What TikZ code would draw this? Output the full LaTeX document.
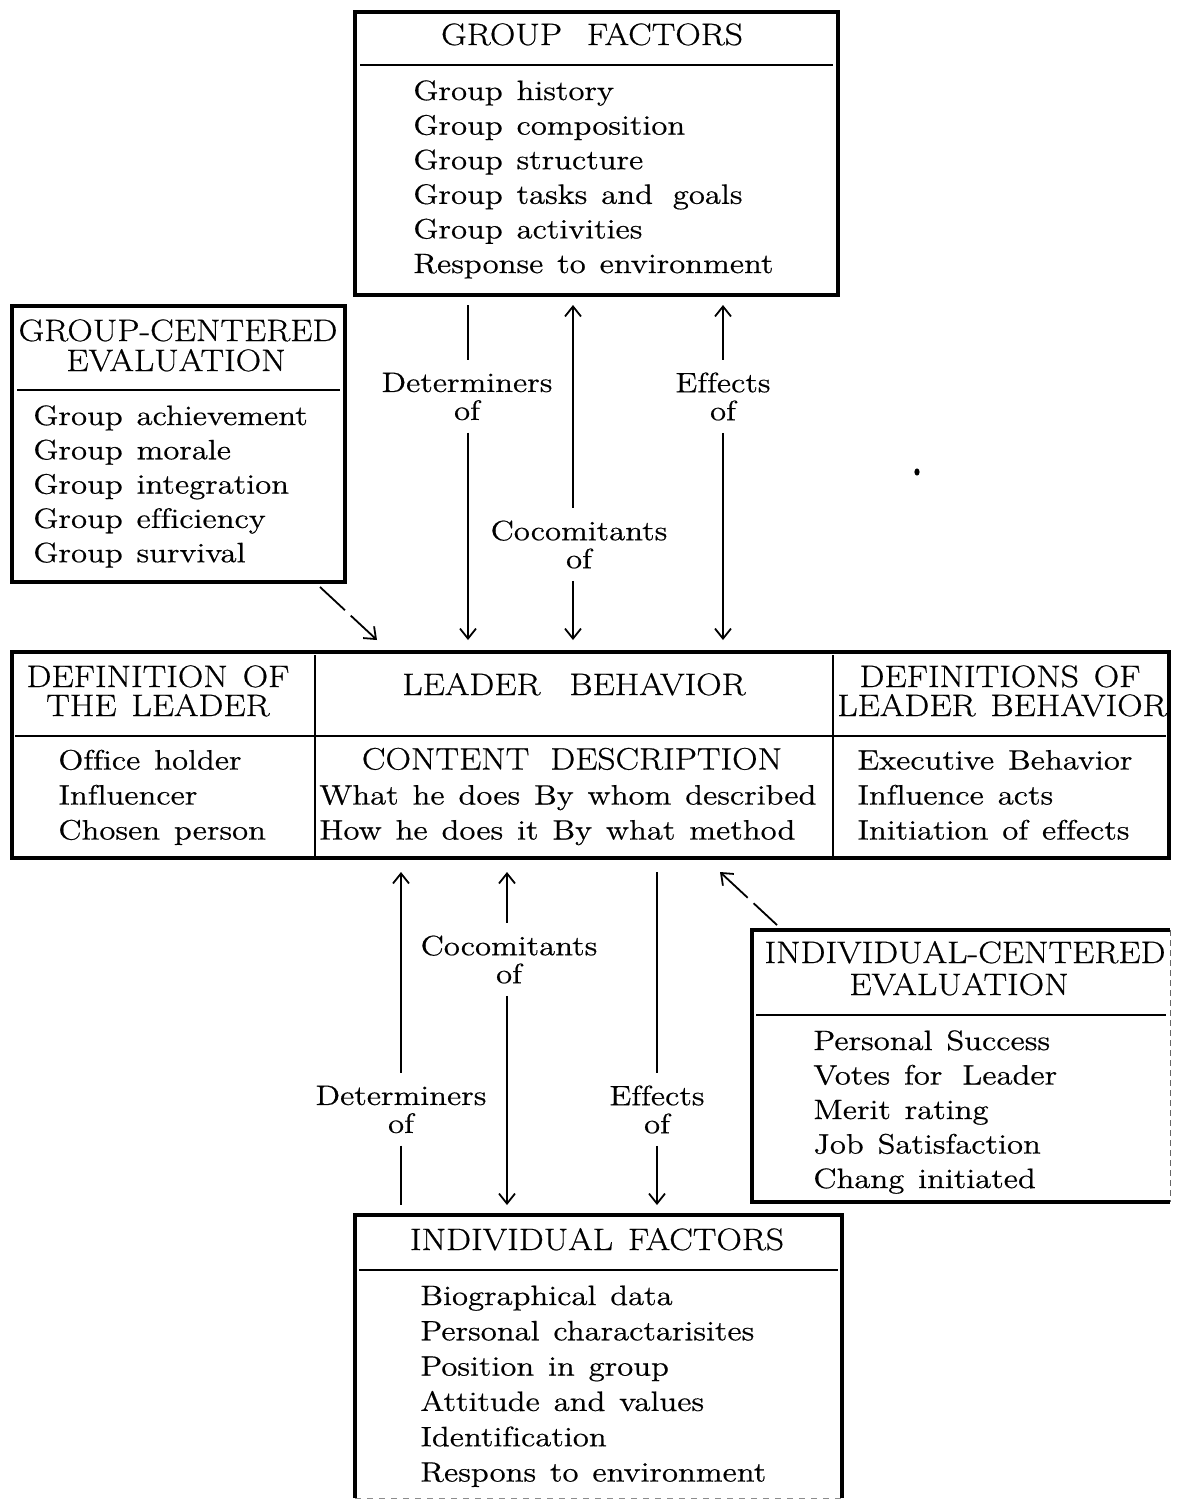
\documentclass[tikz,border=0pt]{standalone}
\usepackage{fontspec}
\newfontfamily\bodyfam{Latin Modern Roman}[FakeStretch=1.17,WordSpace=1.3,FakeBold=0.6,Ligatures=NoCommon]
\newfontfamily\headfam{Latin Modern Roman}[FakeStretch=1.14,WordSpace=1.4,FakeBold=0.6,Ligatures=NoCommon]
\newcommand\bodyfont{\bodyfam\fontsize{14pt}{17pt}\selectfont}
\newcommand\headfont{\headfam\fontsize{15.5pt}{17pt}\selectfont}
\newcommand\lblfont{\bodyfam\fontsize{14pt}{14pt}\selectfont}
\usetikzlibrary{arrows.meta}
\tikzset{
  boxnode/.style={draw, line width=1.7pt, inner sep=0pt, outer sep=0pt, anchor=north west},
  plainbox/.style={inner sep=0pt, outer sep=0pt, anchor=north west},
  boxline/.style={line width=1.7pt},
  divider/.style={line width=0.8pt},
  item/.style={anchor=base west, inner sep=0pt, font=\bodyfont},
  head/.style={anchor=base, inner sep=0pt, font=\headfont},
  lbl/.style={align=center, inner sep=6pt, font=\lblfont},
  conn/.style={line width=0.9pt},
  tip/.style={-{Straight Barb[length=5pt,width=8pt]}},
  tipstart/.style={{Straight Barb[length=5pt,width=8pt]}-}
}
\begin{document}
\begin{tikzpicture}[x=0.5pt,y=-0.5pt]
\useasboundingbox (0,0) rectangle (1177,1501);

% ---------- GROUP FACTORS ----------
\node[boxnode, minimum width=241.5pt, minimum height=141.5pt] (gf) at (355,12) {};
\draw[divider] (360,65) -- (833,65);
\node[head] (gfh) at (592,45) {GROUP\hspace{5pt} FACTORS};
\foreach \t [count=\i from 0] in {Group history, Group composition, Group structure, Group tasks and\hspace{3pt} goals, Group activities, Response to environment}
  \node[item] (gf\i) at (413,{100+34.6*\i}) {\t};

% ---------- GROUP-CENTERED EVALUATION ----------
\node[boxnode, minimum width=166.5pt, minimum height=138pt] (gce) at (12,306) {};
\draw[divider] (17,390) -- (340,390);
\node[head] (gceh1) at (178,341) {GROUP-CENTERED};
\node[head] (gceh2) at (176,371) {EVALUATION};
\foreach \t [count=\i from 0] in {Group achievement, Group morale, Group integration, Group efficiency, Group survival}
  \node[item] (gce\i) at (33,{425+34.3*\i}) {\t};

% ---------- LEADER BEHAVIOR ----------
\node[boxnode, minimum width=578.5pt, minimum height=103pt] (lb) at (12,652) {};
\draw[divider] (15,736) -- (1166,736);
\draw[line width=0.7pt] (315,655) -- (315,856);
\draw[line width=0.7pt] (833,655) -- (833,856);
\node[head] (lbh1) at (158,687) {DEFINITION OF};
\node[head] (lbh2) at (158,716) {THE LEADER};
\node[head] (lbh3) at (574,695) {LEADER\hspace{7pt} BEHAVIOR};
\node[head] (lbh4) at (1000,687) {DEFINITIONS OF};
\node[head] (lbh5) at (1002,716) {LEADER BEHAVIOR};
\foreach \t [count=\i from 0] in {Office holder, Influencer, Chosen person}
  \node[item] (lbl\i) at (58,{769.5+35*\i}) {\t};
\node[head] (lbc) at (572,769.5) {CONTENT\hspace{3pt} DESCRIPTION};
\node[item] (lbm1) at (319,804.5) {What he does By whom described};
\node[item] (lbm2) at (319,839.5) {How he does it By what method};
\foreach \t [count=\i from 0] in {Executive Behavior, Influence acts, Initiation of effects}
  \node[item] (lbr\i) at (857,{769.5+35*\i}) {\t};

% ---------- INDIVIDUAL-CENTERED EVALUATION ----------
\node[plainbox, minimum width=209pt, minimum height=136pt] (ice) at (752,930) {};
\draw[boxline] (ice.north east) -- (ice.north west) -- (ice.south west) -- (ice.south east);
\draw[line width=0.5pt, densely dashed, black!60] (ice.north east) -- (ice.south east);
\draw[divider] (756,1015) -- (1166,1015);
\node[head] (iceh1) at (965,963) {INDIVIDUAL-CENTERED};
\node[head] (iceh2) at (959,995) {EVALUATION};
\foreach \t [count=\i from 0] in {Personal Success, Votes for\hspace{3pt} Leader, Merit rating, Job Satisfaction, Chang initiated}
  \node[item] (ice\i) at (813,{1050+34.5*\i}) {\t};

% ---------- INDIVIDUAL FACTORS ----------
\node[plainbox, minimum width=243.5pt, minimum height=141.5pt] (ifb) at (355,1215) {};
\draw[boxline] (ifb.south west) -- (ifb.north west) -- (ifb.north east) -- (ifb.south east);
\draw[line width=0.5pt, dashed, black!45] (ifb.south west) -- (ifb.south east);
\draw[divider] (359,1270) -- (838,1270);
\node[head] (ifh) at (597,1250) {INDIVIDUAL FACTORS};
\foreach \t [count=\i from 0] in {Biographical data, Personal charactarisites, Position in group, Attitude and values, Identification, Respons to environment}
  \node[item] (if\i) at (420,{1305+35.3*\i}) {\t};

% ---------- connector labels ----------
\node[lbl] (l1) at (467,396.5) {Determiners\\of};
\node[lbl] (l2) at (579,544.5) {Cocomitants\\of};
\node[lbl] (l3) at (723,396.5) {Effects\\of};
\node[lbl] (l4) at (401,1109.5) {Determiners\\of};
\node[lbl] (l5) at (509,959.5) {Cocomitants\\of};
\node[lbl] (l6) at (657,1109.5) {Effects\\of};

\coordinate (v1) at (468,0);
\coordinate (v2) at (573,0);
\coordinate (v3) at (723,0);
\coordinate (v4) at (401,0);
\coordinate (v5) at (507,0);
\coordinate (v6) at (657,0);

% top connectors
\draw[conn, shorten <=5pt] (v1 |- gf.south) -- (v1 |- l1.north);
\draw[conn, tip, shorten >=6pt] (v1 |- l1.south) -- (v1 |- lb.north);
\draw[conn, tipstart, shorten <=5pt] (v2 |- gf.south) -- (v2 |- l2.north);
\draw[conn, tip, shorten >=6pt] (v2 |- l2.south) -- (v2 |- lb.north);
\draw[conn, tipstart, shorten <=5pt] (v3 |- gf.south) -- (v3 |- l3.north);
\draw[conn, tip, shorten >=6pt] (v3 |- l3.south) -- (v3 |- lb.north);

% bottom connectors
\draw[conn, tipstart, shorten <=7pt] (v4 |- lb.south) -- (v4 |- l4.north);
\draw[conn, shorten >=5pt] (v4 |- l4.south) -- (v4 |- ifb.north);
\draw[conn, tipstart, shorten <=7pt] (v5 |- lb.south) -- (v5 |- l5.north);
\draw[conn, tip, shorten >=5pt] (v5 |- l5.south) -- (v5 |- ifb.north);
\draw[conn, shorten <=7pt] (v6 |- lb.south) -- (v6 |- l6.north);
\draw[conn, tip, shorten >=5pt] (v6 |- l6.south) -- (v6 |- ifb.north);

% diagonal evaluation arrows
\draw[conn, tip, dash pattern=on 17pt off 4pt on 60pt off 1pt]
  ([xshift=-12.5pt,yshift=-2.5pt]gce.south east) -- ([xshift=182.5pt,yshift=6pt]lb.north west);
\draw[conn, tip, dash pattern=on 16pt off 4pt on 60pt off 1pt]
  ([xshift=12.5pt,yshift=2.5pt]ice.north west) -- ([xshift=354pt,yshift=-7pt]lb.south west);

% stray dot
\fill (917,472) ellipse [x radius=1.3pt, y radius=1.8pt];
\end{tikzpicture}
\end{document}
